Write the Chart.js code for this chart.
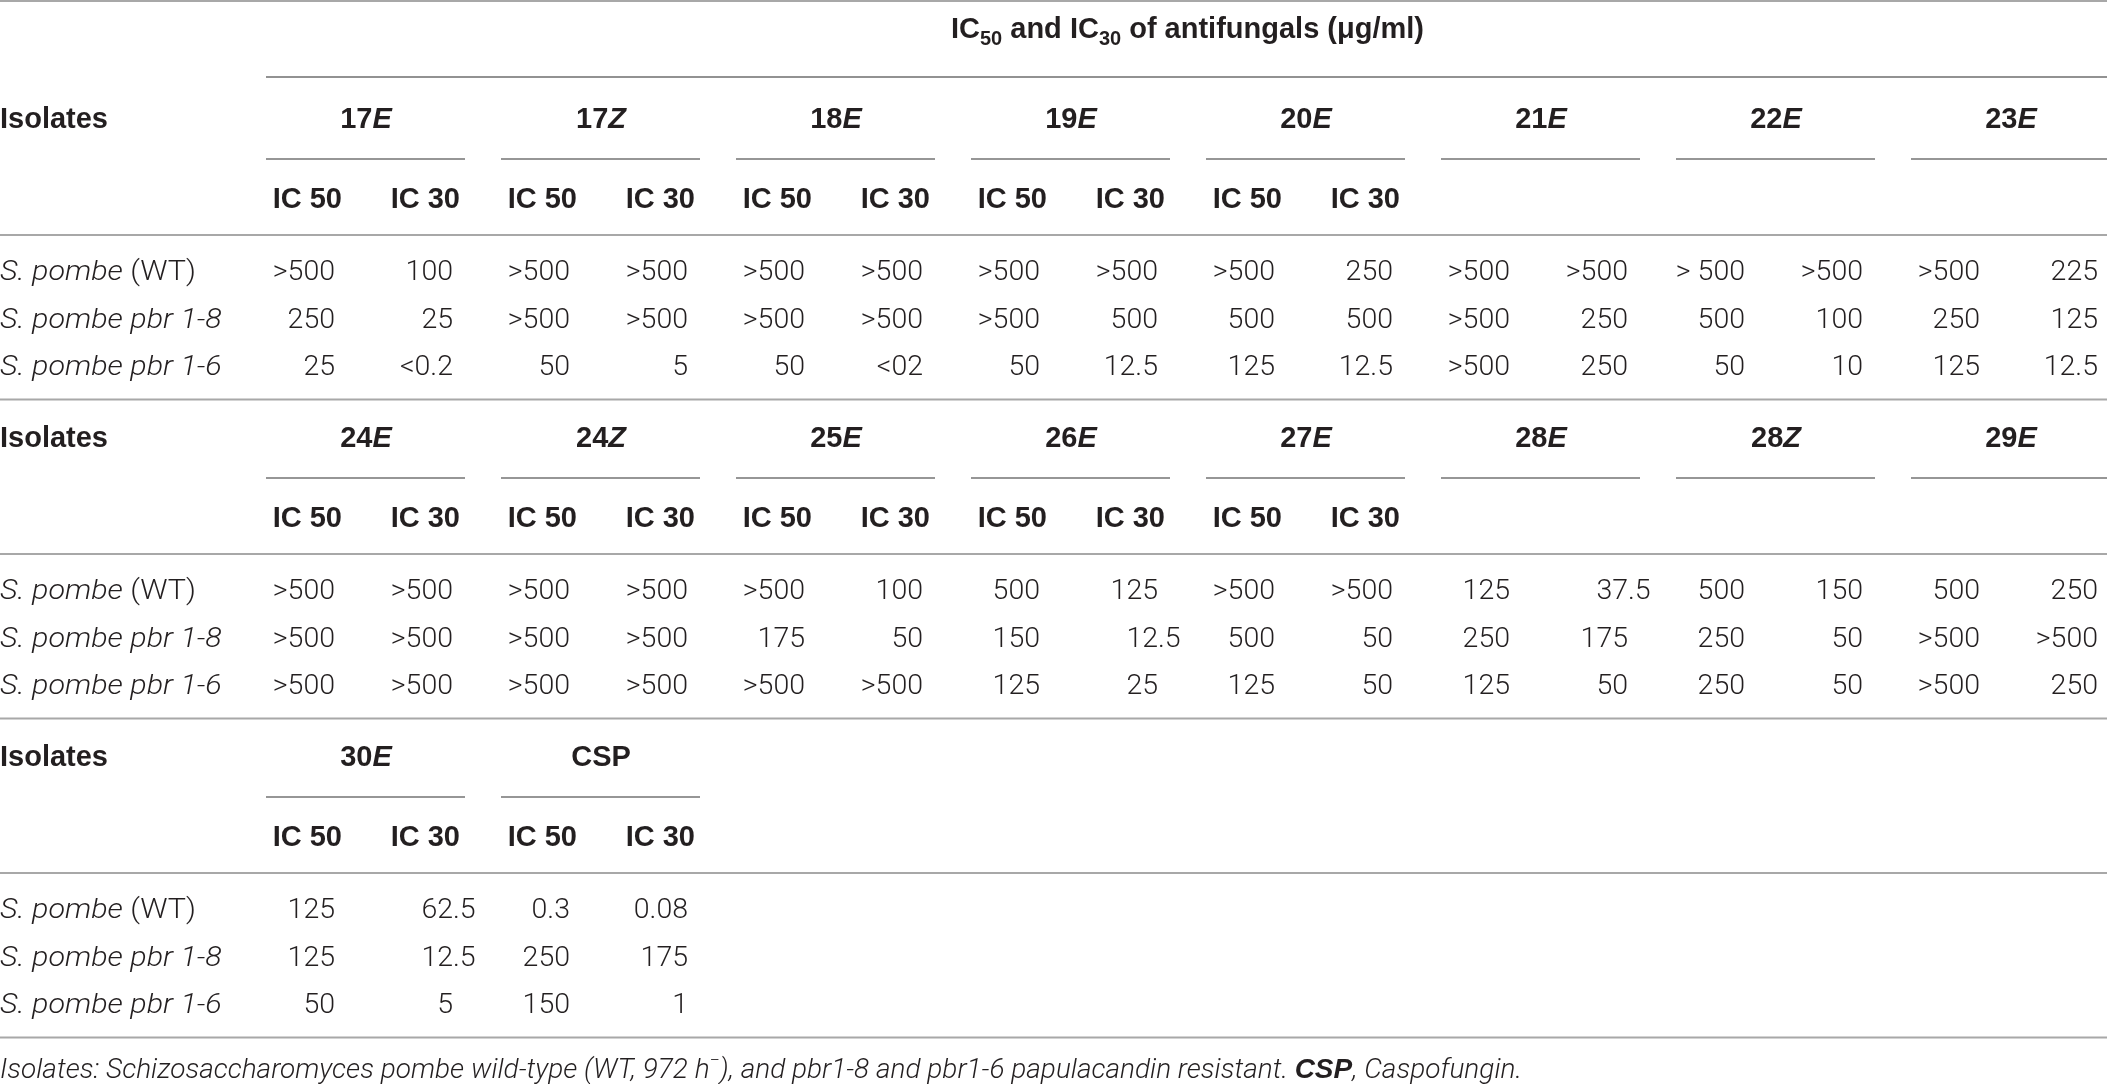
<!DOCTYPE html>
<html><head><meta charset="utf-8">
<script src="https://cdn.jsdelivr.net/npm/chart.js@4.4.1/dist/chart.umd.min.js"></script>
<style>html,body{margin:0;padding:0;background:#fff;overflow:hidden}#wrap{width:2107px;height:1084px;position:relative}</style>
</head><body><div id="wrap"><canvas id="c" width="2107" height="1084"></canvas></div>
<script>
// ---------------- DATA ----------------
const titleText = ['IC', '50', ' and IC', '30', ' of antifungals (\u03bcg/ml)'];
const rowHeader = 'Isolates';
const isolates = ['S. pombe (WT)', 'S. pombe pbr 1-8', 'S. pombe pbr 1-6'];
const subHeaders = ['IC 50', 'IC 30'];

const compounds1 = ['17E', '17Z', '18E', '19E', '20E', '21E', '22E', '23E'];
const ic50_1 = [
  ['>500', '>500', '>500', '>500', '>500', '>500', '> 500', '>500'],
  ['250', '>500', '>500', '>500', '500', '>500', '500', '250'],
  ['25', '50', '50', '50', '125', '>500', '50', '125']
];
const ic30_1 = [
  ['100', '>500', '>500', '>500', '250', '>500', '>500', '225'],
  ['25', '>500', '>500', '500', '500', '250', '100', '125'],
  ['<0.2', '5', '<02', '12.5', '12.5', '250', '10', '12.5']
];

const compounds2 = ['24E', '24Z', '25E', '26E', '27E', '28E', '28Z', '29E'];
const ic50_2 = [
  ['>500', '>500', '>500', '500', '>500', '125', '500', '500'],
  ['>500', '>500', '175', '150', '500', '250', '250', '>500'],
  ['>500', '>500', '>500', '125', '125', '125', '250', '>500']
];
const ic30_2 = [
  ['>500', '>500', '100', '125', '>500', '37.5', '150', '250'],
  ['>500', '>500', '50', '12.5', '50', '175', '50', '>500'],
  ['>500', '>500', '>500', '25', '50', '50', '50', '250']
];

const compounds3 = ['30E', 'CSP'];
const ic50_3 = [
  ['125', '0.3'],
  ['125', '250'],
  ['50', '150']
];
const ic30_3 = [
  ['62.5', '0.08'],
  ['12.5', '175'],
  ['5', '1']
];

// number of compound groups per block that carry IC 50 / IC 30 sub-headers
const subHeaderCount = [5, 5, 2];

const footnoteRuns = [
  ['Isolates: Schizosaccharomyces pombe wild-type (WT, 972 h', 'it'],
  ['\u2212', 'sup'],
  ['), and pbr1-8 and pbr1-6 papulacandin resistant. ', 'it'],
  ['CSP', 'bit'],
  [', Caspofungin.', 'it']
];

// ---------------- LAYOUT / STYLE ----------------
const W = 2107, H = 1084;
const X0 = 266, PITCH = 235;            // first group start and group pitch (px)
const u = px => (px - X0) / PITCH;       // px -> group units
const OFF = { ic50: 69, ic30: 187, label: 100, line: 199, h50: 76, h30: 194 };
const BLOCK_PITCH = 319;
const Y = { title: 38, titleRule: 77, top: 1, label: 128, under: 159, sub: 208, rule: 235, rows: [280, 328, 375], bottom: 399.5, foot: 1078 };
const FONT = {
  b: '700 29px "Liberation Sans", Arial, sans-serif',
  bi: 'italic 700 29px "Liberation Sans", Arial, sans-serif',
  bsub: '700 20px "Liberation Sans", Arial, sans-serif',
  l: '300 28.5px Roboto, "Liberation Sans", sans-serif',
  li: 'italic 300 28.5px Roboto, "Liberation Sans", sans-serif',
  fi: 'italic 300 28px Roboto, "Liberation Sans", sans-serif',
  fbi: 'italic 700 28px "Liberation Sans", Arial, sans-serif',
  fsup: '300 18px Roboto, "Liberation Sans", sans-serif'
};
const NAME_STRETCH = 1.07;
const INK = '#231f20';

// ---------------- BUILD ----------------
const blocks = [
  { names: compounds1, v50: ic50_1, v30: ic30_1, hang: false },
  { names: compounds2, v50: ic50_2, v30: ic30_2, hang: true },
  { names: compounds3, v50: ic50_3, v30: ic30_3, hang: true }
];

const cells = [];
const lines = [];
function addLine(x1, x2, y, color, width) {
  lines.push({ pts: [{ x: x1, y: y }, { x: x2, y: y }], color, width });
}
const XMIN = u(0), XMAX = u(W);

// title
cells.push({ x: u((X0 + W) / 2 + 1), y: Y.title, align: 'center',
  runs: [[titleText[0], FONT.b], [titleText[1], FONT.bsub, 7], [titleText[2], FONT.b], [titleText[3], FONT.bsub, 7], [titleText[4], FONT.b]] });
addLine(XMIN, XMAX, Y.top, '#a8a8a8', 2);
addLine(0, XMAX, Y.titleRule, '#6e6e6e', 1.5);

blocks.forEach((blk, b) => {
  const base = b * BLOCK_PITCH;
  cells.push({ x: XMIN, y: Y.label + base, align: 'left', runs: [[rowHeader, FONT.b]] });
  blk.names.forEach((name, g) => {
    const m = name.match(/^(\d+)([A-Z])$/);
    const runs = m ? [[m[1], FONT.b], [m[2], FONT.bi]] : [[name, FONT.b]];
    cells.push({ x: g + OFF.label / PITCH, y: Y.label + base, align: 'center', runs });
    addLine(g, g + OFF.line / PITCH, Y.under + base, '#969696', 2);
    if (g < subHeaderCount[b]) {
      cells.push({ x: g + OFF.h50 / PITCH, y: Y.sub + base, align: 'right', runs: [[subHeaders[0], FONT.b]] });
      cells.push({ x: g + OFF.h30 / PITCH, y: Y.sub + base, align: 'right', runs: [[subHeaders[1], FONT.b]] });
    }
    isolates.forEach((iso, r) => {
      cells.push({ x: g + OFF.ic50 / PITCH, y: Y.rows[r] + base, align: 'right', hang: blk.hang, runs: [[blk.v50[r][g], FONT.l]] });
      cells.push({ x: g + OFF.ic30 / PITCH, y: Y.rows[r] + base, align: 'right', hang: blk.hang, runs: [[blk.v30[r][g], FONT.l]] });
    });
  });
  isolates.forEach((iso, r) => {
    const sp = iso.slice(0, 8), rest = iso.slice(8);
    const runs = rest.trim().startsWith('(') ? [[sp, FONT.li], [rest, FONT.l]] : [[iso, FONT.li]];
    cells.push({ x: XMIN, y: Y.rows[r] + base, align: 'left', stretch: NAME_STRETCH, runs });
  });
  addLine(XMIN, XMAX, Y.rule + base, '#a8a8a8', 2);
  addLine(XMIN, XMAX, Y.bottom + base, '#a8a8a8', 2);
});

// footnote
cells.push({ x: XMIN, y: Y.foot, align: 'left', runs: footnoteRuns.map(([t, k]) => k === 'it' ? [t, FONT.fi] : k === 'bit' ? [t, FONT.fbi] : [t, FONT.fsup, -12]) });

// ---------------- RENDER ----------------
function runsWidth(ctx, runs) {
  let w = 0; runs.forEach(r => { ctx.font = r[1]; w += ctx.measureText(r[0]).width; }); return w;
}
const textPlugin = {
  id: 'tableText',
  afterDatasetsDraw(chart) {
    const ctx = chart.ctx;
    const idx = chart.data.datasets.length - 1;
    const meta = chart.getDatasetMeta(idx);
    const data = chart.data.datasets[idx].data;
    ctx.save();
    ctx.fillStyle = INK;
    ctx.textBaseline = 'alphabetic';
    ctx.textAlign = 'left';
    meta.data.forEach((el, i) => {
      const c = data[i];
      const runs = c.runs;
      const sx = c.stretch || 1;
      let x = el.x;
      const w = runsWidth(ctx, runs) * sx;
      if (c.align === 'right') {
        const t = runs[0][0];
        const dot = t.indexOf('.');
        if (c.hang && dot > 0 && t.slice(0, dot).replace(/\D/g, '') !== '0') {
          ctx.font = runs[0][1];
          x = x - ctx.measureText(t.slice(0, dot)).width;
        } else x = x - w;
      } else if (c.align === 'center') x = x - w / 2;
      ctx.save();
      ctx.translate(x, el.y);
      ctx.scale(sx, 1);
      let cx = 0;
      runs.forEach(r => {
        ctx.font = r[1];
        ctx.fillText(r[0], cx, (r[2] || 0));
        cx += ctx.measureText(r[0]).width;
      });
      ctx.restore();
    });
    ctx.restore();
  }
};

const datasets = lines.map(l => ({
  type: 'line', data: l.pts, borderColor: l.color, borderWidth: l.width,
  pointRadius: 0, fill: false, clip: false, tension: 0
}));
datasets.push({ type: 'scatter', data: cells, pointRadius: 0, clip: false });

new Chart(document.getElementById('c'), {
  type: 'scatter',
  data: { datasets },
  options: {
    responsive: false, animation: false, events: [],
    layout: { padding: 0 },
    plugins: { legend: { display: false }, tooltip: { enabled: false } },
    scales: {
      x: { type: 'linear', display: false, min: XMIN, max: XMAX },
      y: { type: 'linear', display: false, min: 0, max: H, reverse: true }
    }
  },
  plugins: [textPlugin]
});
</script></body></html>
